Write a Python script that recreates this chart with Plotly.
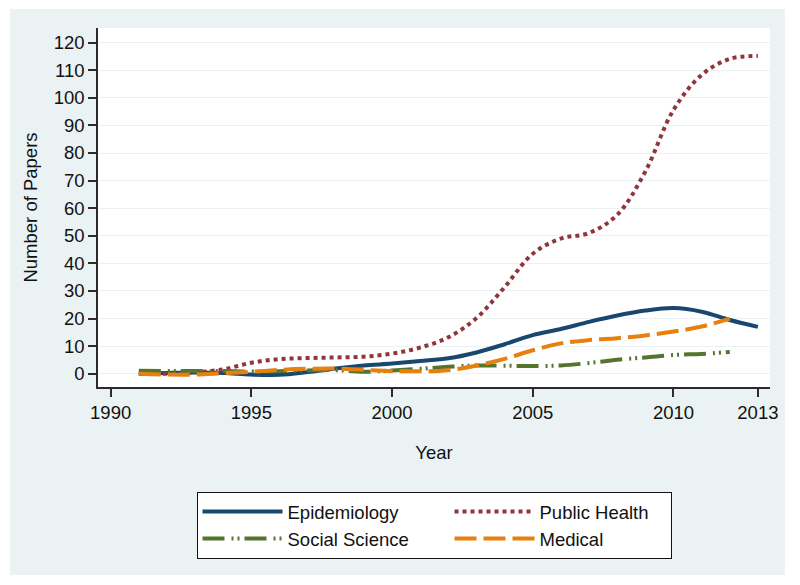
import plotly.graph_objects as go

# ---- data ----
years = [1991, 1992, 1993, 1994, 1995, 1996, 1997, 1998, 1999, 2000, 2001, 2002,
         2003, 2004, 2005, 2006, 2007, 2008, 2009, 2010, 2011, 2012, 2013]
years_short = years[:-1]  # Social Science and Medical end in 2012

epidemiology = [0.0, 0.3, 0.5, 0.3, -0.3, -0.4, 0.6, 1.9, 3.0, 3.7, 4.6, 5.6,
                7.7, 10.7, 14.0, 16.2, 18.8, 21.1, 22.9, 23.8, 22.5, 19.5, 17.0]
public_health = [0.0, 0.0, 0.5, 1.6, 4.0, 5.3, 5.7, 5.9, 6.2, 7.3, 9.5, 13.2,
                 20.2, 31.4, 43.5, 49.0, 51.0, 57.6, 73.3, 95.6, 108.3, 114.1, 115.2]
social_science = [1.1, 1.0, 1.0, 1.0, 0.8, 0.9, 1.2, 1.3, 0.7, 1.2, 1.8, 2.5,
                  3.0, 2.9, 2.8, 3.0, 3.9, 5.1, 5.9, 6.8, 7.2, 7.9]
medical = [0.0, -0.3, -0.3, 0.2, 0.7, 1.4, 1.8, 1.9, 1.4, 1.0, 0.9, 1.3,
           3.0, 5.4, 8.5, 11.0, 12.2, 12.9, 13.9, 15.3, 17.1, 20.0]

x_ticks = [1990, 1995, 2000, 2005, 2010, 2013]
y_ticks = list(range(0, 121, 10))

# ---- styles ----
BG = "#EAF2F3"
FONT = "Liberation Sans, Arial, Helvetica, sans-serif"
AXIS = "#2b2b2b"
FS = 18.5
ITEMW = 80

# page body has an 8px margin; figure coords = viewport coords - 8
OFF = 8
W, H = 800 - OFF, 585 - OFF
L, T = 98 - OFF, 28 - OFF
R = W - (770 - OFF)
B = H - (387 - OFF)
pw, ph = W - L - R, H - T - B


def px_x(p):
    return (p - OFF - L) / pw


def px_y(p):
    return (H - B - (p - OFF)) / ph


fig = go.Figure()
fig.add_trace(go.Scatter(x=years, y=epidemiology, name="Epidemiology", mode="lines",
                         legendwidth=157,
                         line=dict(color="#1a476f", width=4, shape="spline")))
fig.add_trace(go.Scatter(x=years, y=public_health, name="Public Health", mode="lines",
                         legendwidth=126,
                         line=dict(color="#90353b", width=4, dash="dot", shape="spline")))
fig.add_trace(go.Scatter(x=years_short, y=social_science, name="Social Science", mode="lines",
                         legendwidth=157,
                         line=dict(color="#55752f", width=4, shape="spline",
                                   dash="22px,7px,2px,4px,2px,5px")))
fig.add_trace(go.Scatter(x=years_short, y=medical, name="Medical", mode="lines",
                         legendwidth=126,
                         line=dict(color="#e8800f", width=4, shape="spline",
                                   dash="22px,7px")))

fig.update_layout(
    width=W, height=H,
    margin=dict(l=L, r=R, t=T, b=B),
    paper_bgcolor="white",
    plot_bgcolor="white",
    font=dict(family=FONT, size=FS, color="#111"),
    showlegend=True,
    legend=dict(orientation="h", x=0.5, xanchor="center", y=px_y(492), yanchor="top",
                bgcolor="white", bordercolor="#111", borderwidth=1,
                itemwidth=ITEMW, entrywidthmode="pixels",
                font=dict(family=FONT, size=FS, color="#111"), tracegroupgap=0),
    shapes=[
        dict(type="rect", xref="paper", yref="paper", layer="below",
             x0=px_x(10), x1=px_x(785), y0=px_y(575), y1=px_y(9),
             fillcolor=BG, line=dict(width=0)),
        dict(type="rect", xref="paper", yref="paper", layer="below",
             x0=0, x1=1, y0=0, y1=1, fillcolor="white", line=dict(width=0)),
    ],
)

fig.update_xaxes(range=[1989.55, 2013.43], tickvals=x_ticks, showgrid=False, zeroline=False,
                 showline=True, linecolor=AXIS, linewidth=1.5, ticks="outside", ticklen=8,
                 tickcolor=AXIS, tickwidth=1.5,
                 title=dict(text="Year", standoff=24, font=dict(size=FS)))
fig.update_yaxes(range=[-4.8, 125.3], tickvals=y_ticks, showgrid=True, gridcolor=BG,
                 gridwidth=1, zeroline=False,
                 showline=True, linecolor=AXIS, linewidth=1.5, ticks="outside", ticklen=8,
                 tickcolor=AXIS, tickwidth=1.5,
                 title=dict(text="Number of Papers", standoff=11, font=dict(size=FS)))

fig.write_html("out.html")
